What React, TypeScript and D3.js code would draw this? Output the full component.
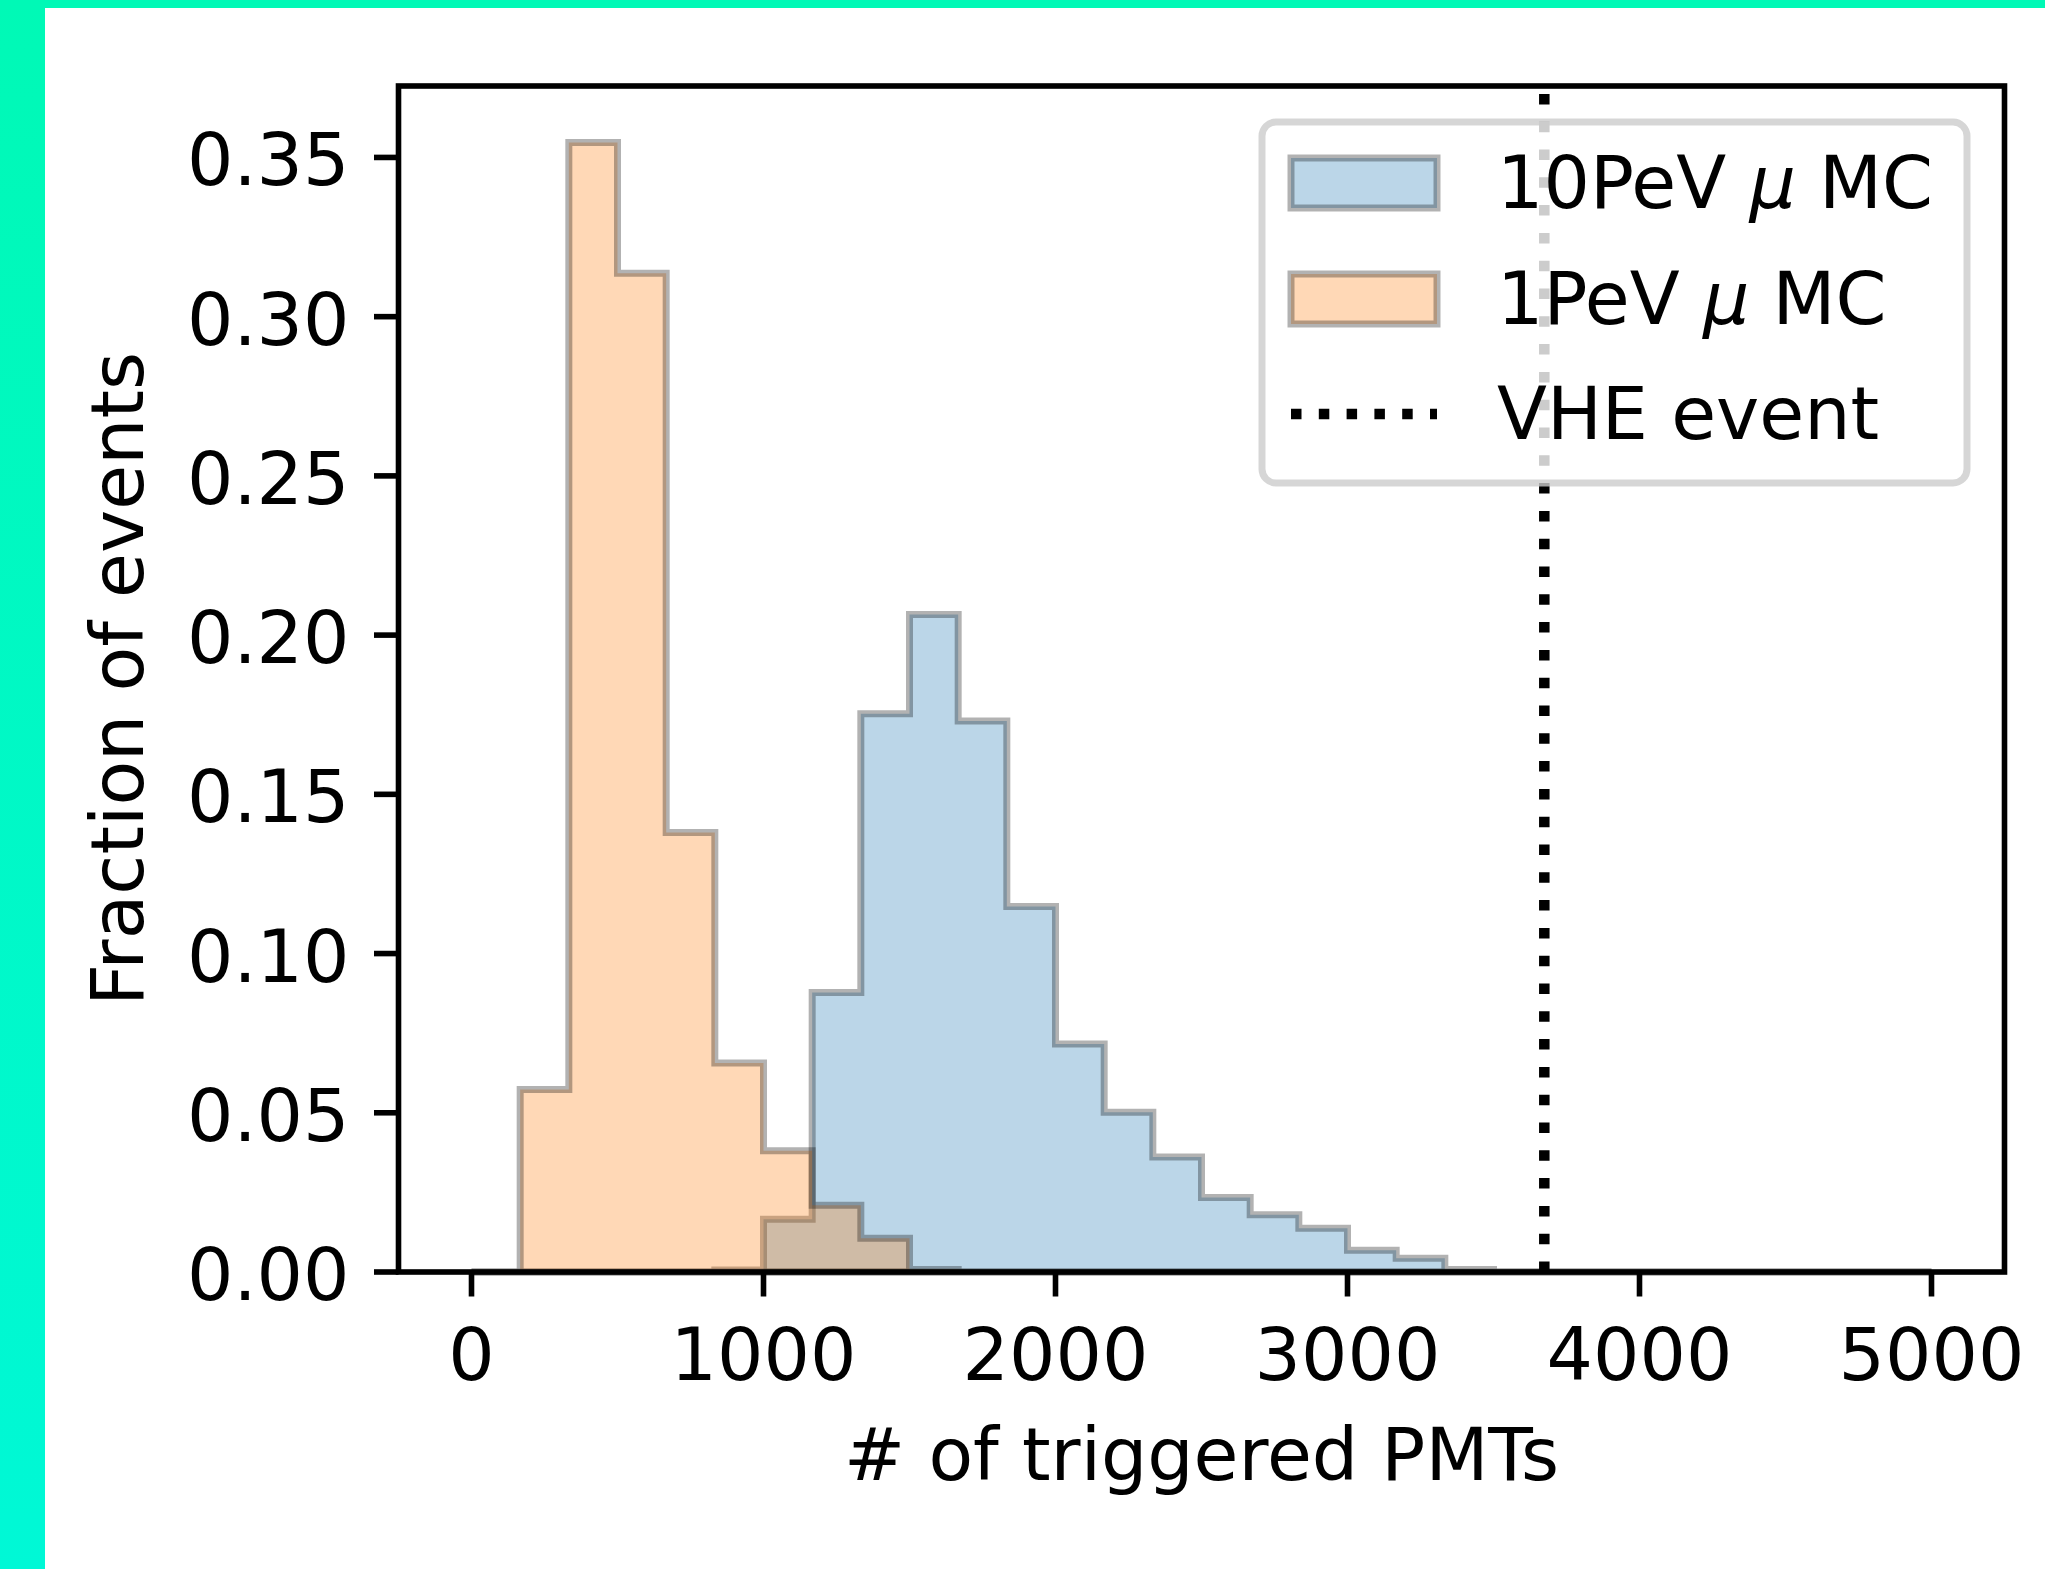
import React from 'react';
import * as d3 from 'd3';

// histogram bin edges (# of triggered PMTs), 30 bins from 0 to 5000
const binEdges = [
  0, 166.67, 333.33, 500, 666.67, 833.33, 1000, 1166.67, 1333.33, 1500, 1666.67,
  1833.33, 2000, 2166.67, 2333.33, 2500, 2666.67, 2833.33, 3000, 3166.67, 3333.33,
  3500, 3666.67, 3833.33, 4000, 4166.67, 4333.33, 4500, 4666.67, 4833.33, 5000
];

// fraction of events per bin
const frac10PeV = [
  0, 0, 0, 0, 0, 0.0006, 0.0166, 0.0878, 0.1753, 0.2065, 0.173, 0.1148, 0.0716,
  0.0502, 0.0361, 0.0234, 0.018, 0.0137, 0.0068, 0.0043, 0.0008,
  0, 0, 0, 0, 0, 0, 0, 0, 0
];
const frac1PeV = [
  0, 0.0573, 0.3547, 0.3136, 0.138, 0.0656, 0.0381, 0.021, 0.0106, 0.0008,
  0, 0, 0, 0, 0, 0, 0, 0, 0, 0, 0, 0, 0, 0, 0, 0, 0, 0, 0, 0
];

const vheEvent = 3674;

const xTicks = [0, 1000, 2000, 3000, 4000, 5000];
const yTicks = [0, 0.05, 0.1, 0.15, 0.2, 0.25, 0.3, 0.35];

const seriesNames = ['10PeV', '1PeV'];
const seriesColors = ['#1f77b4', '#ff7f0e'];

const W = 2045;
const H = 1569;
const plot = { left: 398.5, right: 2004.5, top: 86, bottom: 1272 };
const FONT = 'DejaVu Sans';
const FS = 73;
const LW = 5.6; // 0.8pt
const TICK = 24.5;

const App = () => {
  const [e0, e1] = d3.extent(binEdges) as [number, number];
  const pad = (e1 - e0) * 0.05;
  const x = d3.scaleLinear().domain([e0 - pad, e1 + pad]).range([plot.left, plot.right]);
  const yMax = (d3.max([...frac10PeV, ...frac1PeV]) as number) * 1.05;
  const y = d3.scaleLinear().domain([0, yMax]).range([plot.bottom, plot.top]);

  const line = d3
    .line<[number, number]>()
    .x((d) => x(d[0]))
    .y((d) => y(d[1]));

  const stepPath = (vals: number[]) => {
    const pts: [number, number][] = [[binEdges[0], 0]];
    vals.forEach((v, i) => {
      pts.push([binEdges[i], v], [binEdges[i + 1], v]);
    });
    pts.push([binEdges[binEdges.length - 1], 0]);
    return line(pts) + 'Z';
  };

  const series = [frac10PeV, frac1PeV];

  // legend
  const leg = { x: 1262, y: 122, w: 705, h: 361 };
  const rowY = [183, 299, 414];
  const handleX = leg.x + 29;
  const handleW = 146;
  const textX = handleX + handleW + 60;

  return (
    <div style={{ position: 'absolute', left: 0, top: 0 }}>
      <svg width={W} height={H} style={{ display: 'block', fontFamily: FONT }}>
        <defs>
          <linearGradient id="band" x1="0" y1="0" x2="0" y2="1">
            <stop offset="0" stopColor="#00f9b6" />
            <stop offset="1" stopColor="#00f8d6" />
          </linearGradient>
        </defs>
        <rect x={0} y={0} width={W} height={H} fill="#ffffff" />
        <rect x={0} y={0} width={W} height={8} fill="#00f9b6" />
        <rect x={0} y={0} width={45} height={H} fill="url(#band)" />

        {/* histograms */}
        {series.map((vals, i) => (
          <path
            key={seriesNames[i]}
            d={stepPath(vals)}
            fill={seriesColors[i]}
            fillOpacity={0.3}
            stroke="#000"
            strokeOpacity={0.3}
            strokeWidth={7}
            strokeLinejoin="miter"
          />
        ))}

        {/* VHE event line */}
        <path
          d={`M${x(vheEvent)},${plot.bottom}L${x(vheEvent)},${plot.top}`}
          stroke="#000"
          strokeWidth={10.5}
          strokeDasharray="10.5,17.3"
          fill="none"
        />

        {/* spines */}
        <rect
          x={plot.left}
          y={plot.top}
          width={plot.right - plot.left}
          height={plot.bottom - plot.top}
          fill="none"
          stroke="#000"
          strokeWidth={LW}
        />

        {/* x ticks */}
        {xTicks.map((t) => (
          <g key={'x' + t}>
            <line x1={x(t)} x2={x(t)} y1={plot.bottom} y2={plot.bottom + TICK} stroke="#000" strokeWidth={LW} />
            <text x={x(t)} y={1380} textAnchor="middle" fontSize={FS} fill="#000">
              {t}
            </text>
          </g>
        ))}

        {/* y ticks */}
        {yTicks.map((t) => (
          <g key={'y' + t}>
            <line x1={plot.left - TICK} x2={plot.left} y1={y(t)} y2={y(t)} stroke="#000" strokeWidth={LW} />
            <text x={plot.left - 2 * TICK} y={y(t) + 28} textAnchor="end" fontSize={FS} fill="#000">
              {t.toFixed(2)}
            </text>
          </g>
        ))}

        {/* axis labels */}
        <text x={(plot.left + plot.right) / 2} y={1480} textAnchor="middle" fontSize={FS} fill="#000">
          # of triggered PMTs
        </text>
        <text
          x={143}
          y={(plot.top + plot.bottom) / 2}
          transform={`rotate(-90, 143, ${(plot.top + plot.bottom) / 2})`}
          textAnchor="middle"
          fontSize={FS}
          fill="#000"
        >
          Fraction of events
        </text>

        {/* legend */}
        <g>
          <rect
            x={leg.x}
            y={leg.y}
            width={leg.w}
            height={leg.h}
            rx={14}
            ry={14}
            fill="#fff"
            fillOpacity={0.8}
            stroke="#cccccc"
            strokeOpacity={0.8}
            strokeWidth={7}
          />
          {seriesNames.map((name, i) => (
            <g key={'leg' + name}>
              <rect
                x={handleX}
                y={rowY[i] - 25}
                width={handleW}
                height={50}
                fill={seriesColors[i]}
                fillOpacity={0.3}
                stroke="#000"
                strokeOpacity={0.3}
                strokeWidth={7}
              />
              <text x={textX} y={rowY[i] + 25} fontSize={FS} fill="#000">
                {name + ' '}
                <tspan fontStyle="italic">μ</tspan>
                {' MC'}
              </text>
            </g>
          ))}
          <line
            x1={handleX}
            x2={handleX + handleW}
            y1={rowY[2]}
            y2={rowY[2]}
            stroke="#000"
            strokeWidth={10.5}
            strokeDasharray="10.5,17.3"
          />
          <text x={textX} y={rowY[2] + 25} fontSize={FS} fill="#000">
            VHE event
          </text>
        </g>
      </svg>
    </div>
  );
};

export default App;
